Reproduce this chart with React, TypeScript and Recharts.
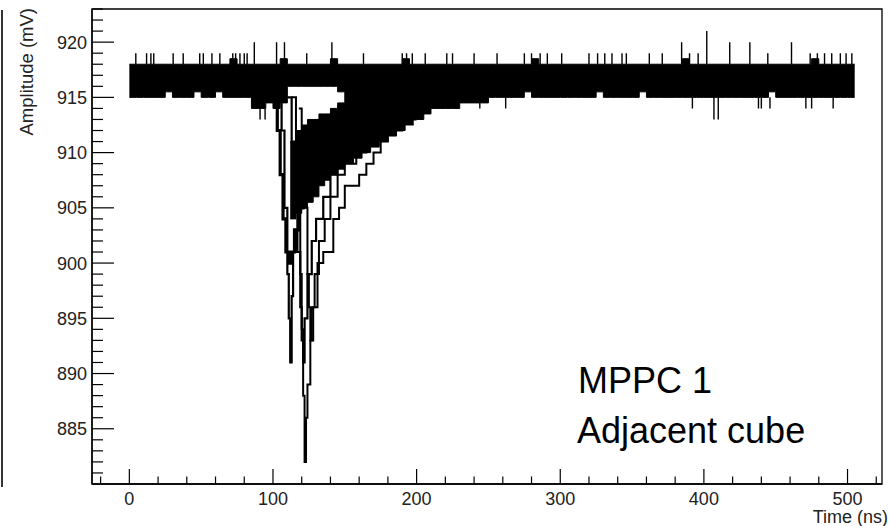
import { ComposedChart, Area, Line, XAxis, YAxis, ReferenceArea } from "recharts";

// envelope of the overlaid baseline noise, 5 ns bins (mV)
const bandTime = [
  0, 5, 10, 15, 20, 25, 30, 35, 40, 45,
  50, 55, 60, 65, 70, 75, 80, 85, 90, 95,
  100, 105, 110, 115, 120, 125, 130, 135, 140, 145,
  150, 155, 160, 165, 170, 175, 180, 185, 190, 195,
  200, 205, 210, 215, 220, 225, 230, 235, 240, 245,
  250, 255, 260, 265, 270, 275, 280, 285, 290, 295,
  300, 305, 310, 315, 320, 325, 330, 335, 340, 345,
  350, 355, 360, 365, 370, 375, 380, 385, 390, 395,
  400, 405, 410, 415, 420, 425, 430, 435, 440, 445,
  450, 455, 460, 465, 470, 475, 480, 485, 490, 495,
  500, 505,
];
const bandHigh = [
  918, 918, 918, 918, 918, 918, 918, 918, 918, 918,
  918, 918, 918, 918, 918.5, 918, 918, 918, 918, 918,
  918, 918.5, 918, 918, 918, 918, 918, 918, 918.5, 918,
  918, 918, 918, 918, 918, 918, 918, 918, 918.5, 918,
  918, 918, 918, 918, 918, 918, 918, 918, 918, 918,
  918, 918, 918, 918, 918, 918, 918.5, 918, 918, 918,
  918, 918, 918, 918, 918, 918, 918, 918, 918, 918,
  918, 918, 918, 918, 918, 918, 918, 918.5, 918, 918,
  918, 918, 918, 918, 918, 918, 918, 918, 918, 918,
  918, 918, 918, 918, 918, 918.5, 918, 918, 918, 918,
  918, 918,
];
const bandLow = [
  915, 915, 915, 915, 915, 915.5, 915, 915, 915, 915.5,
  915, 915, 915.5, 915, 915, 915, 915, 914, 914, 914.5,
  914, 914.5, 916, 916, 916, 916, 916, 916, 916, 915.5,
  915, 915, 915, 914.5, 914, 913.5, 913, 913, 913, 913,
  913, 913.5, 914, 914, 914, 914, 914.5, 914.5, 914.5, 914.5,
  915, 915, 915, 915, 915, 915.5, 915, 915, 915, 915,
  915, 915, 915, 915, 915, 915.5, 915, 915, 915, 915,
  915, 915.5, 915, 915, 915, 915, 915, 915, 915, 915,
  915, 915, 915, 915, 915, 915, 915, 915, 915, 915.5,
  915, 915, 915, 915, 915, 915, 915, 915, 915, 915,
  915, 915,
];

// thick bundle formed by the recovering tails
const tailTime = [112, 116, 120, 124, 128, 132, 136, 140, 145, 150, 156, 162, 168, 174, 180, 186, 192, 198];
const tailHigh = [911, 912, 912.5, 913, 913, 913.5, 913.5, 914, 914.5, 915, 915, 915, 915, 915, 915, 915, 915, 915];
const tailLow = [904, 904.5, 905, 905.5, 906, 907, 907.5, 908, 908.5, 909, 909.5, 910, 910.5, 911, 911.5, 912, 912.5, 912.5];

// individual pulses
const pulseATime = [104, 106, 108, 110, 111, 112, 113, 114, 116, 118, 120, 123, 126, 130, 135, 140, 150];
const pulseAValue = [915, 912, 905, 899, 895, 891, 897, 901, 903, 905, 906, 908, 909, 911, 912, 913, 914];

const pulseBTime = [113, 116, 118, 119, 120, 121, 122, 123, 124, 126, 127, 129, 132, 136, 140, 145, 150, 158, 165, 175, 185];
const pulseBValue = [915, 911, 905, 899, 894, 888, 882, 886, 889, 893, 896, 899, 902, 904, 906, 908, 909, 910, 912, 913, 914];

const pulseCTime = [110, 113, 115, 117, 119, 120, 121, 122, 124, 127, 130, 135, 140, 145, 150, 160, 170, 180];
const pulseCValue = [915, 911, 906, 901, 896, 893, 891, 895, 899, 902, 904, 906, 908, 909, 910, 911, 912, 913];

const pulseDTime = [118, 120, 122, 124, 125, 126, 128, 131, 135, 139, 142, 146, 150, 155, 160, 165, 170, 175, 180, 190, 200];
const pulseDValue = [914, 910, 905, 899, 896, 893, 896, 900, 901, 901, 904, 905, 907, 907, 908, 909, 910, 911, 912, 913, 913];

const pulseETime = [100, 103, 105, 107, 109, 111, 113, 115, 118, 121, 125, 129, 134, 140, 150, 160];
const pulseEValue = [915, 912, 908, 904, 901, 900, 901, 903, 905, 906, 908, 909, 910, 911, 912, 913];

// narrow excursions out of the band
const spikeTime = [
  4.5, 12, 15, 17, 30.5, 37.5, 49, 51.5, 57.5, 63,
  72, 74, 77, 80, 82, 87, 91, 94.5, 102.5, 108,
  123.5, 141, 163, 190, 193, 197, 206, 221, 225, 229,
  240, 244, 256, 262, 275, 280, 286, 291, 301, 320,
  326, 331, 336, 343, 346, 362, 371, 384.5, 390, 392,
  396, 402, 407, 410, 418, 432, 438, 440, 444.5, 446,
  461, 471, 474, 475, 479, 484, 489, 490, 495, 499,
  503,
];
const spikeBase = [
  918, 918, 918, 918, 918, 918, 918, 918, 918, 918,
  918, 918, 918, 918, 918, 918, 914, 914, 918, 918,
  918, 918, 918, 918, 918, 918, 918, 918, 918, 914.5,
  918, 914.5, 918, 915, 918, 918, 918, 918, 918, 918,
  918, 918, 918, 918, 918, 918, 918, 918, 918, 915,
  918, 918, 915, 915, 918, 918, 915, 915, 918, 915,
  918, 915, 918, 915, 918, 918, 918, 915, 918, 918,
  918,
];
const spikeTip = [
  919, 919, 919, 919, 919, 919, 919, 919, 919, 919,
  919, 919, 919, 919, 919, 920, 913, 913, 920, 920,
  919, 920, 919, 919, 919, 919, 919, 919, 919, 914,
  919, 914, 919, 914, 919, 919, 919, 919, 919, 919,
  919, 919, 919, 919, 919, 919, 919, 920, 919, 914,
  919, 921, 913, 913, 920, 920, 914, 914, 919, 914,
  920, 914, 919, 914, 919, 919, 919, 914, 919, 919,
  919,
];

const X_DOMAIN = [-26, 524];
const Y_DOMAIN = [880, 923];
const xMajorTicks = [0, 100, 200, 300, 400, 500];
const xMinorTicks = [-20, 0, 20, 40, 60, 80, 100, 120, 140, 160, 180, 200, 220, 240, 260, 280, 300, 320, 340, 360, 380, 400, 420, 440, 460, 480, 500, 520];
const yMajorTicks = [885, 890, 895, 900, 905, 910, 915, 920];
const yMinorTicks = [881, 882, 883, 884, 885, 886, 887, 888, 889, 890, 891, 892, 893, 894, 895, 896, 897, 898, 899, 900, 901, 902, 903, 904, 905, 906, 907, 908, 909, 910, 911, 912, 913, 914, 915, 916, 917, 918, 919, 920, 921, 922, 923];

const bandData = bandTime.map((t, i) => ({ t, range: [bandLow[i], bandHigh[i]] }));
const tailData = tailTime.map((t, i) => ({ t, range: [tailLow[i], tailHigh[i]] }));
const toSeries = (ts: number[], vs: number[]) => ts.map((t, i) => ({ t, v: vs[i] }));
const pulses = [
  { data: toSeries(pulseATime, pulseAValue), width: 2.2 },
  { data: toSeries(pulseBTime, pulseBValue), width: 2 },
  { data: toSeries(pulseCTime, pulseCValue), width: 2.2 },
  { data: toSeries(pulseDTime, pulseDValue), width: 2 },
  { data: toSeries(pulseETime, pulseEValue), width: 3.2 },
];
const spikeData = spikeTime.flatMap((t, i) => [
  { t, v: spikeBase[i] },
  { t, v: spikeTip[i] },
  { t, v: null },
]);

const FONT = "'Liberation Sans', Arial, Helvetica, sans-serif";
const LABEL_FILL = "#222";

// ROOT style: ticks drawn inside the frame, long for labelled values
const Y_GAP = 5;
const YTick = (props: any) => {
  const { x, y, payload } = props;
  const major = yMajorTicks.includes(payload.value);
  const ax = x + Y_GAP;
  return (
    <g>
      <line x1={ax} x2={ax + (major ? 22 : 11)} y1={y} y2={y} stroke="#000" strokeWidth={1.2} />
      {major && (
        <text x={x} y={y} dy="0.36em" textAnchor="end" fontFamily={FONT} fontSize={18} fill={LABEL_FILL}>
          {payload.value}
        </text>
      )}
    </g>
  );
};

const X_GAP = 8;
const XTick = (props: any) => {
  const { x, y, payload } = props;
  const major = xMajorTicks.includes(payload.value);
  const ay = y - X_GAP;
  return (
    <g>
      <line x1={x} x2={x} y1={ay} y2={ay - (major ? 15 : 7.5)} stroke="#000" strokeWidth={1.2} />
      {major && (
        <text x={x} y={y} dy="0.71em" textAnchor="middle" fontFamily={FONT} fontSize={18} fill={LABEL_FILL}>
          {payload.value}
        </text>
      )}
    </g>
  );
};

const AmplitudeTitle = () => (
  <text
    transform="translate(33,8) rotate(-90)"
    textAnchor="end"
    fontFamily={FONT}
    fontSize={18.5}
    fill={LABEL_FILL}
  >
    Amplitude (mV)
  </text>
);

const TimeTitle = () => (
  <text x={888} y={523} textAnchor="end" fontFamily={FONT} fontSize={18} fill={LABEL_FILL}>
    Time (ns)
  </text>
);

export default function App() {
  return (
    <div
      style={{
        position: "absolute",
        left: 0,
        top: 0,
        width: 889,
        height: 526,
        background: "#fff",
        overflow: "hidden",
      }}
    >
      {/* edge of the neighbouring panel */}
      <div style={{ position: "absolute", left: 1, top: 10, width: 1.5, height: 477, background: "#333" }} />
      <ComposedChart width={889} height={526} margin={{ top: 9, right: 7, bottom: 0, left: 0 }}>
        <XAxis
          dataKey="t"
          type="number"
          domain={X_DOMAIN}
          allowDataOverflow
          ticks={xMinorTicks}
          interval={0}
          height={42}
          tickSize={0}
          tickMargin={X_GAP}
          tick={<XTick />}
          tickLine={false}
          axisLine={{ stroke: "#000", strokeWidth: 1.3 }}
          label={{ content: TimeTitle }}
        />
        <YAxis
          type="number"
          domain={Y_DOMAIN}
          allowDataOverflow
          ticks={yMinorTicks}
          interval={0}
          width={92}
          tickSize={0}
          tickMargin={Y_GAP}
          tick={<YTick />}
          tickLine={false}
          axisLine={{ stroke: "#000", strokeWidth: 1.3 }}
          label={{ content: AmplitudeTitle }}
        />
        <Area
          data={bandData}
          dataKey="range"
          type="stepAfter"
          stroke="#000"
          strokeWidth={1}
          fill="#000"
          fillOpacity={1}
          dot={false}
          activeDot={false}
          isAnimationActive={false}
        />
        <Area
          data={tailData}
          dataKey="range"
          type="stepAfter"
          stroke="#000"
          strokeWidth={1}
          fill="#000"
          fillOpacity={1}
          dot={false}
          activeDot={false}
          isAnimationActive={false}
        />
        {pulses.map((p, i) => (
          <Line
            key={i}
            data={p.data}
            dataKey="v"
            type="stepAfter"
            stroke="#000"
            strokeWidth={p.width}
            dot={false}
            activeDot={false}
            isAnimationActive={false}
          />
        ))}
        <Line
          data={spikeData}
          dataKey="v"
          type="linear"
          stroke="#000"
          strokeWidth={1.4}
          connectNulls={false}
          dot={false}
          activeDot={false}
          isAnimationActive={false}
        />
        {/* frame around the pad */}
        <ReferenceArea
          x1={X_DOMAIN[0]}
          x2={X_DOMAIN[1]}
          y1={Y_DOMAIN[0]}
          y2={Y_DOMAIN[1]}
          fill="none"
          fillOpacity={0}
          stroke="#000"
          strokeWidth={1.3}
          ifOverflow="visible"
        />
      </ComposedChart>
      <svg
        width={889}
        height={526}
        style={{ position: "absolute", left: 0, top: 0, pointerEvents: "none" }}
      >
        <text x={578} y={393} fontFamily={FONT} fontSize={36} fill="#000">
          MPPC 1
        </text>
        <text x={577} y={443} fontFamily={FONT} fontSize={36} fill="#000">
          Adjacent cube
        </text>
      </svg>
    </div>
  );
}
